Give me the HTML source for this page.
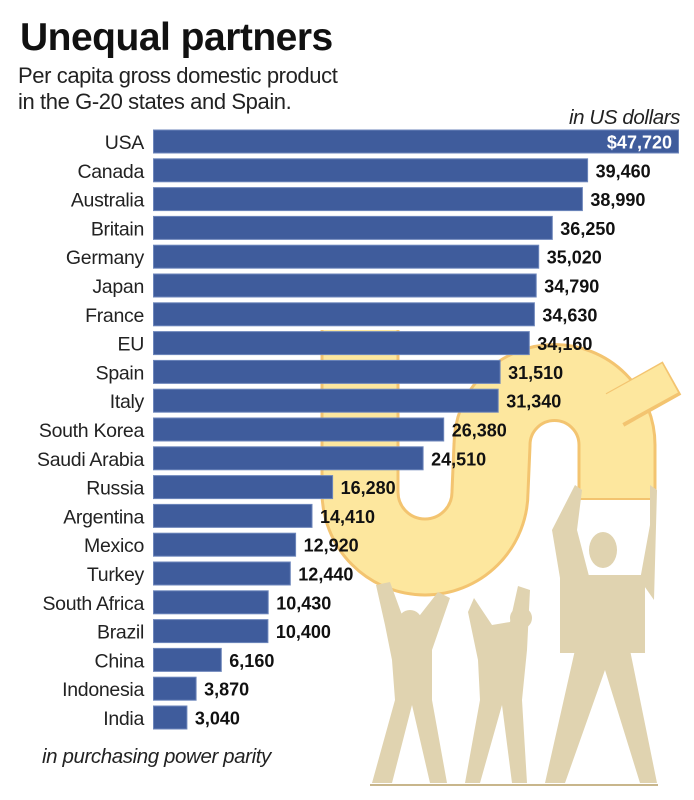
<!DOCTYPE html>
<html><head><meta charset="utf-8"><style>
html,body{margin:0;padding:0;background:#fff;}
svg{display:block;}
text{font-family:"Liberation Sans",sans-serif;}
.l{font-size:19.5px;fill:#222;text-anchor:end;letter-spacing:-0.3px;}
.v{font-size:18px;font-weight:bold;fill:#111;}
rect.b{fill:#3f5c9c;stroke:#6d86bb;stroke-width:1;}
</style></head><body>
<svg width="694" height="800" viewBox="0 0 694 800">
<!-- dollar sign -->
<g fill="none" stroke-linecap="butt">
<path d="M360 330 L360 492 A65 65 0 0 0 490 492 L492 445 A62 62 0 0 1 617 445 L617 500" stroke="#f3c470" stroke-width="79"/>
<path d="M360 330 L360 492 A65 65 0 0 0 490 492 L492 445 A62 62 0 0 1 617 445 L617 498" stroke="#fde79e" stroke-width="73"/>
<path d="M615 410 L672 378" stroke="#f3c470" stroke-width="38"/>
<path d="M612 410 L670 378" stroke="#fde79e" stroke-width="33"/>
</g>
<!-- people -->
<g fill="#e0d3b0">
<polygon points="372,783 395,700 392,660 385,625 376,585 390,582 402,615 420,615 438,592 450,598 432,650 432,700 447,783 430,783 412,705 392,783"/>
<circle cx="410" cy="622" r="12"/>
<polygon points="465,783 480,700 478,660 468,612 474,598 492,625 510,622 518,586 530,590 527,650 522,700 527,783 512,783 502,705 480,783"/>
<circle cx="521" cy="618" r="11"/>
<rect x="560" y="575" width="85" height="78"/>
<polygon points="562,590 552,530 575,485 582,490 577,530 590,580"/>
<polygon points="640,580 650,525 650,485 657,490 654,600"/>
<polygon points="545,783 575,650 630,650 657,783 640,783 605,670 565,783"/>
<ellipse cx="603" cy="550" rx="14" ry="18"/>
</g>
<line x1="370" y1="785" x2="658" y2="785" stroke="#c8b68c" stroke-width="2"/>

<text x="20" y="50" font-size="39" font-weight="bold" fill="#111" style="letter-spacing:-0.5px">Unequal partners</text>
<text x="18" y="83" font-size="22" fill="#222" style="letter-spacing:-0.4px">Per capita gross domestic product</text>
<text x="18" y="109" font-size="22" fill="#222" style="letter-spacing:-0.4px">in the G-20 states and Spain.</text>
<text x="680" y="124" font-size="20.5" font-style="italic" fill="#222" text-anchor="end" style="letter-spacing:-0.4px">in US dollars</text>

<g>
<rect class="b" x="153.5" y="130" width="525" height="23"/><text class="l" x="144" y="149">USA</text><text x="672" y="148.5" class="v" style="fill:#fff" text-anchor="end">$47,720</text>
<rect class="b" x="153.5" y="158.8" width="434.1" height="23"/><text class="l" x="144" y="177.8">Canada</text><text class="v" x="595.6" y="177.3">39,460</text>
<rect class="b" x="153.5" y="187.6" width="428.9" height="23"/><text class="l" x="144" y="206.6">Australia</text><text class="v" x="590.4" y="206.1">38,990</text>
<rect class="b" x="153.5" y="216.4" width="398.8" height="23"/><text class="l" x="144" y="235.4">Britain</text><text class="v" x="560.3" y="234.9">36,250</text>
<rect class="b" x="153.5" y="245.2" width="385.2" height="23"/><text class="l" x="144" y="264.2">Germany</text><text class="v" x="546.7" y="263.7">35,020</text>
<rect class="b" x="153.5" y="274" width="382.7" height="23"/><text class="l" x="144" y="293">Japan</text><text class="v" x="544.2" y="292.5">34,790</text>
<rect class="b" x="153.5" y="302.8" width="380.9" height="23"/><text class="l" x="144" y="321.8">France</text><text class="v" x="542.4" y="321.3">34,630</text>
<rect class="b" x="153.5" y="331.6" width="375.8" height="23"/><text class="l" x="144" y="350.6">EU</text><text class="v" x="537.3" y="350.1">34,160</text>
<rect class="b" x="153.5" y="360.4" width="346.6" height="23"/><text class="l" x="144" y="379.4">Spain</text><text class="v" x="508.1" y="378.9">31,510</text>
<rect class="b" x="153.5" y="389.2" width="344.7" height="23"/><text class="l" x="144" y="408.2">Italy</text><text class="v" x="506.2" y="407.7">31,340</text>
<rect class="b" x="153.5" y="418" width="290.2" height="23"/><text class="l" x="144" y="437">South Korea</text><text class="v" x="451.7" y="436.5">26,380</text>
<rect class="b" x="153.5" y="446.8" width="269.6" height="23"/><text class="l" x="144" y="465.8">Saudi Arabia</text><text class="v" x="431.1" y="465.3">24,510</text>
<rect class="b" x="153.5" y="475.6" width="179.1" height="23"/><text class="l" x="144" y="494.6">Russia</text><text class="v" x="340.6" y="494.1">16,280</text>
<rect class="b" x="153.5" y="504.4" width="158.5" height="23"/><text class="l" x="144" y="523.4">Argentina</text><text class="v" x="320" y="522.9">14,410</text>
<rect class="b" x="153.5" y="533.2" width="142.1" height="23"/><text class="l" x="144" y="552.2">Mexico</text><text class="v" x="303.6" y="551.7">12,920</text>
<rect class="b" x="153.5" y="562" width="136.8" height="23"/><text class="l" x="144" y="581">Turkey</text><text class="v" x="298.3" y="580.5">12,440</text>
<rect class="b" x="153.5" y="590.8" width="114.7" height="23"/><text class="l" x="144" y="609.8">South Africa</text><text class="v" x="276.2" y="609.3">10,430</text>
<rect class="b" x="153.5" y="619.6" width="114.4" height="23"/><text class="l" x="144" y="638.6">Brazil</text><text class="v" x="275.9" y="638.1">10,400</text>
<rect class="b" x="153.5" y="648.4" width="67.8" height="23"/><text class="l" x="144" y="667.4">China</text><text class="v" x="229.3" y="666.9">6,160</text>
<rect class="b" x="153.5" y="677.2" width="42.6" height="23"/><text class="l" x="144" y="696.2">Indonesia</text><text class="v" x="204.1" y="695.7">3,870</text>
<rect class="b" x="153.5" y="706" width="33.4" height="23"/><text class="l" x="144" y="725">India</text><text class="v" x="194.9" y="724.5">3,040</text>
</g>
<text x="42" y="763" font-size="20.5" font-style="italic" fill="#222" style="letter-spacing:-0.4px">in purchasing power parity</text>
</svg>
</body></html>
